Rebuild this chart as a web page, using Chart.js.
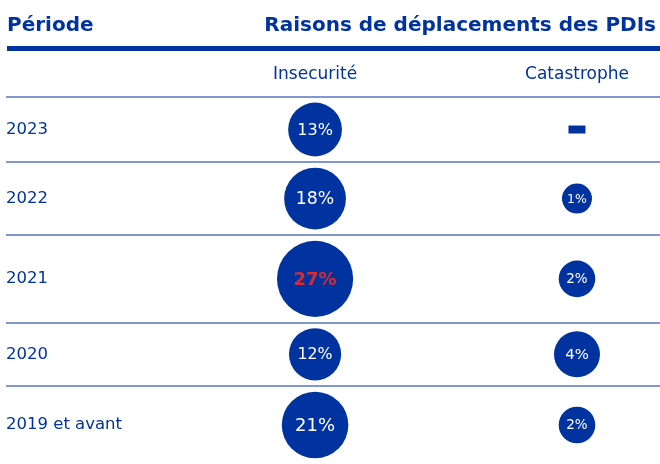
<!DOCTYPE html>
<html><head><meta charset="utf-8">
<script src="https://cdn.jsdelivr.net/npm/chart.js@4/dist/chart.umd.min.js"></script>
<style>html,body{margin:0;padding:0;background:#fff}canvas{display:block}</style>
</head><body>
<canvas id="c" width="660" height="464"></canvas>
<script>
// ---- data ----
const headerLeft = 'Période';
const headerRight = 'Raisons de déplacements des PDIs';
const columns = ['Insecurité', 'Catastrophe'];
const periods = ['2023', '2022', '2021', '2020', '2019 et avant'];
const insecurite = [13, 18, 27, 12, 21];
const catastrophe = [null, 1, 2, 4, 2];

// ---- styles ----
const BLUE = '#0033a0';
const LINE = '#7e99cf';
const RED = '#dc2a2f';
const FONT = '"DejaVu Sans", sans-serif';
const ROW_GAP = 11;

const sizeInsec = v => 16.5 + 0.8 * v;
const sizeCata = v => v == null ? 8.5 : 7 + 8 * Math.sqrt(v);
const maxInsec = Math.max(...insecurite);

// table rows grow with the largest bubble they hold (like the source table)
const rowH = insecurite.map(v => 2 * sizeInsec(v) + ROW_GAP);
const rowTop = [];
let acc = 0;
rowH.forEach(h => { rowTop.push(acc); acc += h; });
const rowMid = rowTop.map((t, i) => t + rowH[i] / 2);
const rowTotal = acc;

function points(values, col, sizeFn) {
  return values.map((v, i) => ({ x: col, y: rowMid[i], r: sizeFn(v), v: v }));
}

const isNull = ctx => ctx.raw && ctx.raw.v == null;

const headerPlugin = {
  id: 'header',
  beforeDraw(chart) {
    const c = chart.ctx;
    c.save();
    c.fillStyle = '#fff';
    c.fillRect(0, 0, chart.width, chart.height);
    c.restore();
  },
  afterDraw(chart) {
    const c = chart.ctx;
    c.save();
    c.fillStyle = BLUE;
    c.font = 'bold 20px ' + FONT;
    c.textBaseline = 'alphabetic';
    c.textAlign = 'left';
    c.fillText(headerLeft, 7, 31);
    c.textAlign = 'right';
    c.fillText(headerRight, 656, 31);
    c.fillRect(7, 46, 653, 5);
    c.restore();
  }
};

const labelPlugin = {
  id: 'bubbleLabels',
  afterDatasetsDraw(chart) {
    const c = chart.ctx;
    c.save();
    c.textAlign = 'center';
    c.textBaseline = 'middle';
    chart.data.datasets.forEach((ds, di) => {
      const meta = chart.getDatasetMeta(di);
      meta.data.forEach((el, i) => {
        const raw = ds.data[i];
        if (raw.v == null) return;
        const fs = Math.min(18, 8 + 0.3 * raw.r);
        const highlight = di === 0 && raw.v === maxInsec;
        c.font = (highlight ? 'bold ' : '') + fs.toFixed(1) + 'px ' + FONT;
        c.fillStyle = highlight ? RED : '#ffffff';
        c.fillText(raw.v + '%', el.x, el.y + 1);
      });
    });
    c.restore();
  }
};

new Chart(document.getElementById('c'), {
  type: 'bubble',
  data: {
    datasets: [
      { label: columns[0], data: points(insecurite, 0, sizeInsec), backgroundColor: BLUE, borderWidth: 0, yAxisID: 'y' },
      { label: columns[1], data: points(catastrophe, 1, sizeCata), backgroundColor: BLUE,
        borderColor: BLUE, yAxisID: 'y',
        pointStyle: ctx => isNull(ctx) ? 'line' : 'circle',
        borderWidth: ctx => isNull(ctx) ? 8 : 0 }
    ]
  },
  options: {
    responsive: false,
    devicePixelRatio: 1,
    animation: false,
    events: [],
    layout: { autoPadding: false, padding: { left: 6, right: 0, top: 52.6, bottom: 0 } },
    plugins: { legend: { display: false }, tooltip: { enabled: false } },
    scales: {
      x: {
        type: 'linear',
        position: 'top',
        min: -1.18,
        max: 1.317,
        afterBuildTicks: s => { s.ticks = [{ value: 0 }, { value: 1 }]; },
        grid: { display: false, drawTicks: false },
        border: { display: false },
        ticks: {
          padding: 12,
          maxRotation: 0,
          autoSkip: false,
          color: BLUE,
          font: { family: FONT, size: 17 },
          callback: v => columns[v]
        }
      },
      y: {
        type: 'linear',
        position: 'left',
        reverse: true,
        min: 0,
        max: rowTotal,
        afterBuildTicks: s => { s.ticks = rowMid.map(v => ({ value: v })); },
        grid: { display: false, drawTicks: false },
        border: { display: false },
        ticks: {
          mirror: true,
          padding: 0,
          autoSkip: false,
          color: BLUE,
          font: { family: FONT, size: 16.5, lineHeight: 0.01 },
          callback: (v, i) => periods[i]
        }
      },
      yGrid: {
        type: 'linear',
        position: 'left',
        reverse: true,
        min: 0,
        max: rowTotal,
        afterBuildTicks: s => { s.ticks = rowTop.map(v => ({ value: v })); },
        grid: { drawTicks: false, lineWidth: 2, color: LINE },
        border: { display: false },
        ticks: { display: false }
      }
    }
  },
  plugins: [headerPlugin, labelPlugin]
});
</script>
</body></html>
